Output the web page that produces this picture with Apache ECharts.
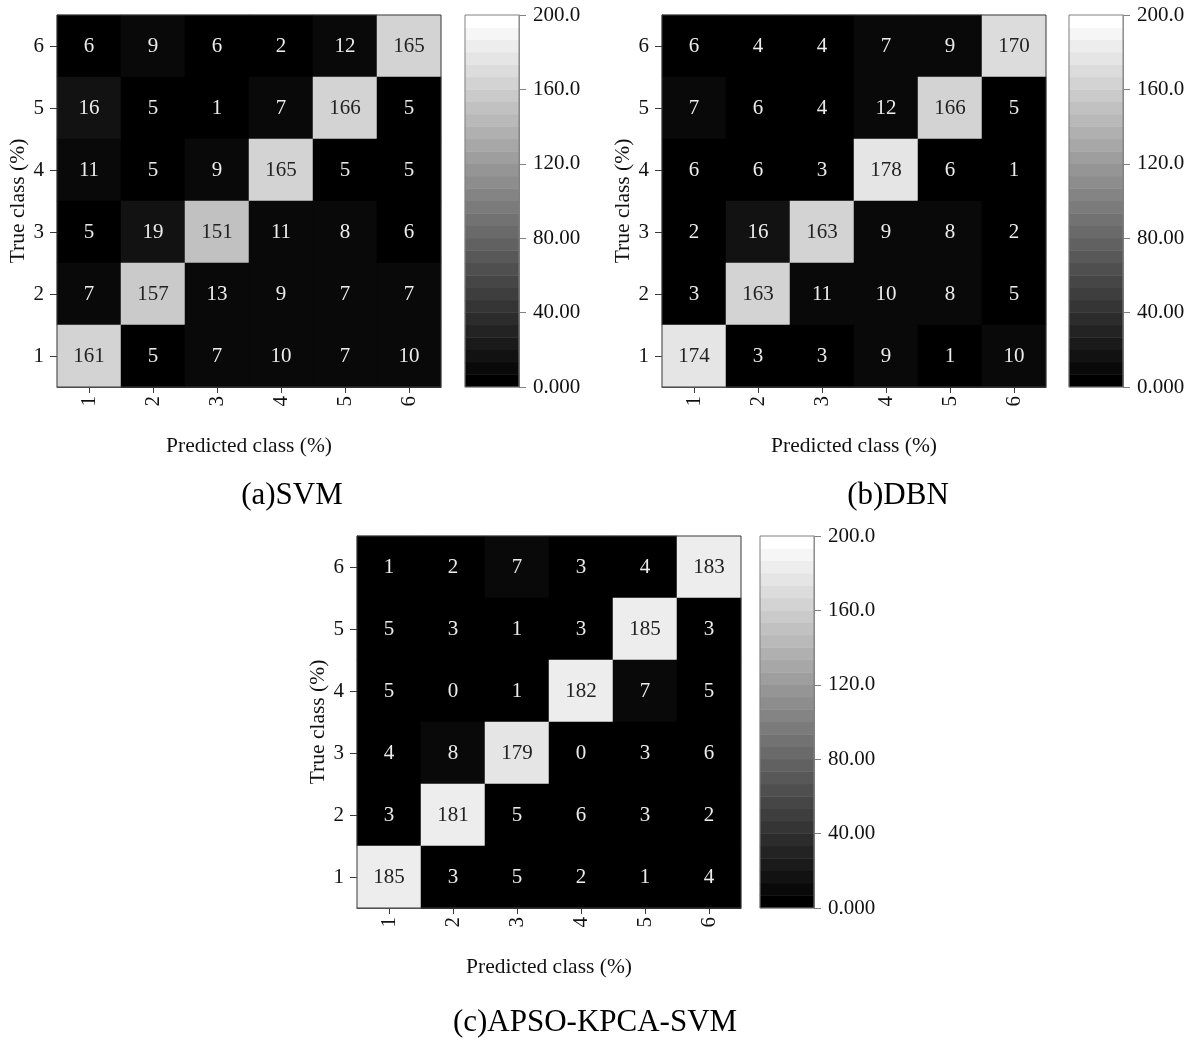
<!DOCTYPE html>
<html>
<head>
<meta charset="utf-8">
<script src="https://cdn.jsdelivr.net/npm/echarts@6/dist/echarts.min.js"></script>
<style>
html,body{margin:0;padding:0;background:#fff;}
#main{width:1198px;height:1047px;}
</style>
</head>
<body>
<div id="main"></div>
<script>
// ---- data ----
const predictedClasses = ['1', '2', '3', '4', '5', '6'];
const trueClasses = ['1', '2', '3', '4', '5', '6'];
// rows listed top-to-bottom as drawn: true class 6, 5, 4, 3, 2, 1
const svmRows = [
  [6, 9, 6, 2, 12, 165],
  [16, 5, 1, 7, 166, 5],
  [11, 5, 9, 165, 5, 5],
  [5, 19, 151, 11, 8, 6],
  [7, 157, 13, 9, 7, 7],
  [161, 5, 7, 10, 7, 10]
];
const dbnRows = [
  [6, 4, 4, 7, 9, 170],
  [7, 6, 4, 12, 166, 5],
  [6, 6, 3, 178, 6, 1],
  [2, 16, 163, 9, 8, 2],
  [3, 163, 11, 10, 8, 5],
  [174, 3, 3, 9, 1, 10]
];
const apsoRows = [
  [1, 2, 7, 3, 4, 183],
  [5, 3, 1, 3, 185, 3],
  [5, 0, 1, 182, 7, 5],
  [4, 8, 179, 0, 3, 6],
  [3, 181, 5, 6, 3, 2],
  [185, 3, 5, 2, 1, 4]
];
const captions = ['(a)SVM', '(b)DBN', '(c)APSO-KPCA-SVM'];
const colorbarTicks = ['0.000', '40.00', '80.00', '120.0', '160.0', '200.0'];
const colorMin = 0, colorMax = 200, colorStep = 40, bandCount = 30;

// ---- styling / layout ----
const FONT = 'Liberation Serif, Times New Roman, serif';
const panels = [
  {rows: svmRows, grid: {left: 57, top: 15, width: 384, height: 372}, cb: {left: 465, top: 15, width: 54, height: 372}, cap: [292, 496]},
  {rows: dbnRows, grid: {left: 662, top: 15, width: 384, height: 372}, cb: {left: 1069, top: 15, width: 54, height: 372}, cap: [898, 496]},
  {rows: apsoRows, grid: {left: 357, top: 536, width: 384, height: 372}, cb: {left: 760, top: 536, width: 54, height: 372}, cap: [595, 1023]}
];

function grey(i) {
  const g = Math.round(i / (bandCount - 1) * 255);
  return 'rgb(' + g + ',' + g + ',' + g + ')';
}
const bandW = (colorMax - colorMin) / bandCount;
const pieces = [];
for (let i = 0; i < bandCount; i++) {
  const p = {gte: colorMin + i * bandW, color: grey(i)};
  if (i < bandCount - 1) p.lt = colorMin + (i + 1) * bandW; else p.lte = colorMax;
  pieces.push(p);
}
const bandIdx = [];
const bandData = [];
for (let i = 0; i < bandCount; i++) {
  bandIdx.push(String(i));
  bandData.push([0, i, colorMin + (i + 0.5) * bandW]);
}

function toCells(rows) {
  const out = [];
  rows.forEach((row, r) => {
    const y = rows.length - 1 - r;
    row.forEach((v, x) => {
      out.push({value: [x, y, v], label: {color: v > 100 ? '#222' : '#ececec'}});
    });
  });
  return out;
}

const grids = [], xAxes = [], yAxes = [], series = [], graphics = [];
const axisColor = '#3a3a3a';
panels.forEach((p, k) => {
  const gi = grids.length;
  grids.push(Object.assign({show: true, borderColor: axisColor, borderWidth: 1, backgroundColor: 'transparent', z: 10}, p.grid));
  const xi = xAxes.length;
  xAxes.push({
    type: 'category', gridIndex: gi, data: predictedClasses,
    axisLine: {show: true, lineStyle: {color: axisColor}},
    axisTick: {show: true, alignWithLabel: true, length: 6, lineStyle: {color: axisColor}},
    axisLabel: {rotate: 90, margin: 9, fontFamily: FONT, fontSize: 21, color: '#111'},
    splitLine: {show: false}, splitArea: {show: false},
    name: 'Predicted class (%)', nameLocation: 'middle', nameGap: 48,
    nameTextStyle: {fontFamily: FONT, fontSize: 21.5, color: '#111'}
  });
  const yi = yAxes.length;
  yAxes.push({
    type: 'category', gridIndex: gi, data: trueClasses,
    axisLine: {show: true, lineStyle: {color: axisColor}},
    axisTick: {show: true, alignWithLabel: true, length: 7, lineStyle: {color: axisColor}},
    axisLabel: {margin: 13, fontFamily: FONT, fontSize: 21, color: '#111'},
    splitLine: {show: false}, splitArea: {show: false},
    name: 'True class (%)', nameLocation: 'middle', nameGap: 27,
    nameTextStyle: {fontFamily: FONT, fontSize: 21.5, color: '#111'}
  });
  series.push({
    type: 'heatmap', xAxisIndex: xi, yAxisIndex: yi,
    data: toCells(p.rows),
    label: {show: true, fontFamily: FONT, fontSize: 21},
    emphasis: {disabled: true}, silent: true
  });

  // colorbar
  const ci = grids.length;
  grids.push(Object.assign({show: true, borderColor: '#808080', borderWidth: 1, backgroundColor: 'transparent', z: 10}, p.cb));
  const cxi = xAxes.length;
  xAxes.push({type: 'category', gridIndex: ci, data: [''], show: false});
  const cyi = yAxes.length;
  yAxes.push({type: 'category', gridIndex: ci, data: bandIdx, show: false});
  yAxes.push({
    type: 'value', gridIndex: ci, position: 'right', min: colorMin, max: colorMax, interval: colorStep,
    axisLine: {show: true, lineStyle: {color: '#808080'}},
    axisTick: {show: true, length: 7, lineStyle: {color: '#808080'}},
    axisLabel: {margin: 14, fontFamily: FONT, fontSize: 21, color: '#111',
      formatter: v => colorbarTicks[Math.round((v - colorMin) / colorStep)]},
    splitLine: {show: false}
  });
  series.push({
    type: 'heatmap', xAxisIndex: cxi, yAxisIndex: cyi, data: bandData,
    label: {show: false}, emphasis: {disabled: true}, silent: true
  });

  graphics.push({
    type: 'text', x: p.cap[0], y: p.cap[1],
    style: {text: captions[k], font: '31px ' + FONT, fill: '#000', textAlign: 'center', textVerticalAlign: 'middle'}
  });
});

const chart = echarts.init(document.getElementById('main'));
chart.setOption({
  animation: false,
  backgroundColor: '#fff',
  grid: grids,
  xAxis: xAxes,
  yAxis: yAxes,
  visualMap: {
    type: 'piecewise', show: false, dimension: 2,
    seriesIndex: series.map((s, i) => i),
    pieces: pieces
  },
  series: series,
  graphic: graphics
});
</script>
</body>
</html>
